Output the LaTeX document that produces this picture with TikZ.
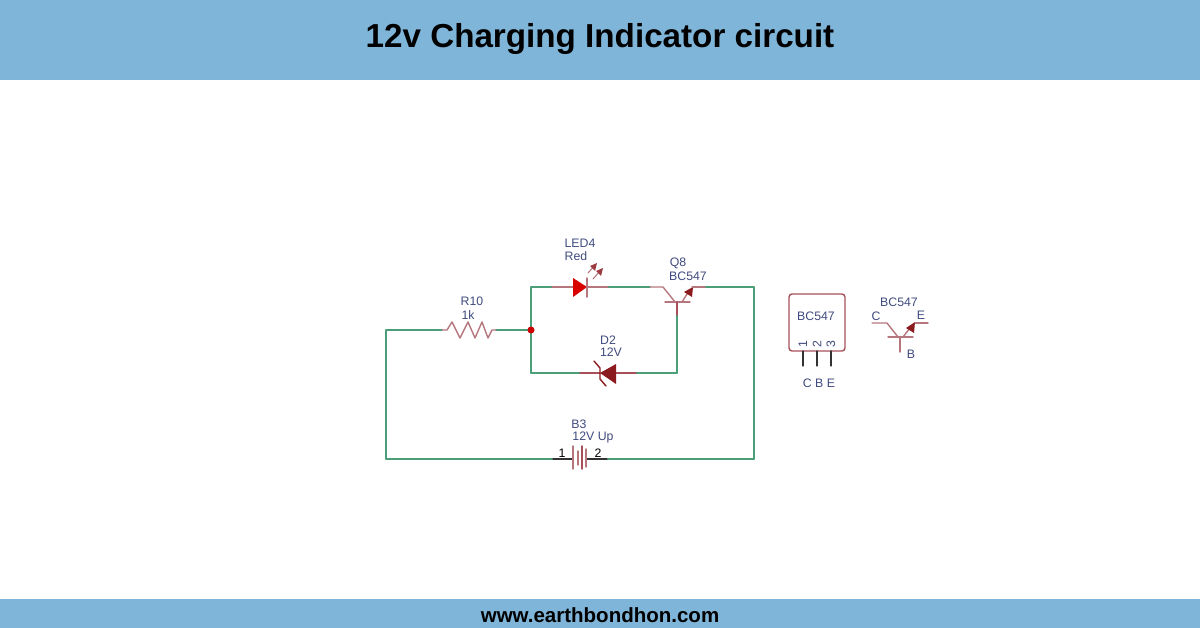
\documentclass[tikz,border=0pt]{standalone}
\usepackage{fontspec}
\setmainfont{Liberation Sans}
\usetikzlibrary{arrows}
\definecolor{bandblue}{HTML}{7FB5D8}
\definecolor{wiregreen}{HTML}{4A9E78}
\definecolor{partpink}{HTML}{B5767E}
\definecolor{partred}{HTML}{8B1A1F}
\definecolor{zenerlead}{HTML}{A8505A}
\definecolor{labelblue}{HTML}{3F4A7E}
\tikzset{
  wire/.style={line width=1.4pt,color=wiregreen},
  lead/.style={line width=1.4pt,color=partpink},
  darklead/.style={line width=1.4pt,color=zenerlead},
  blacklead/.style={line width=1.1pt,color=black!80},
  lbl/.style={inner sep=0pt,color=labelblue,font=\fontsize{12.3}{12.3}\selectfont},
}
\begin{document}
\begin{tikzpicture}[line cap=round,line join=round,x=1pt,y=-1pt]
\useasboundingbox (0,0) rectangle (1200,628);
\fill [color=bandblue] (0,0) rectangle (1200,80);
\fill [color=bandblue] (0,599) rectangle (1200,628);
\node (title) at (600,39) {\fontsize{33.2}{33.2}\selectfont\bfseries 12v Charging Indicator circuit};
\node (site) at (600,615) {\fontsize{20.5}{20.5}\selectfont\bfseries www.earthbondhon.com};

% wire corners and component ends
\coordinate (rl) at (386,330);
\coordinate (bl) at (386,459);
\coordinate (br) at (754,459);
\coordinate (tr) at (754,287);
\coordinate (ra) at (442,330);
\coordinate (rb) at (496,330);
\coordinate (jn) at (531,330);
\coordinate (jt) at (531,287);
\coordinate (jb) at (531,373);
\coordinate (la) at (552,287);
\coordinate (lb) at (608,287);
\coordinate (qc) at (650,287);
\coordinate (qe) at (705,287);
\coordinate (qb) at (677,315);
\coordinate (qk) at (677,373);
\coordinate (za) at (580,373);
\coordinate (zb) at (636,373);
\coordinate (ba) at (553,459);
\coordinate (bb) at (607,459);

\draw [wire] (ra)-- (rl);
\draw [wire] (rl)-- (bl);
\draw [wire] (bl)-- (ba);
\draw [wire] (bb)-- (br);
\draw [wire] (br)-- (tr);
\draw [wire] (tr)-- (qe);
\draw [wire] (rb)-- (jn);
\draw [wire] (jt)-- (jb);
\draw [wire] (jt)-- (la);
\draw [wire] (lb)-- (qc);
\draw [wire] (jb)-- (za);
\draw [wire] (zb)-- (qk);
\draw [wire] (qk)-- (qb);
\fill [color=red!80!black] (jn) circle (3.5);

% R10
\draw [lead] (ra)-- (447,330)-- (452,322)-- (460,338)-- (468,322)-- (475,338)-- (482,322)-- (488,338)-- (492,330)-- (rb);
\node [lbl] (r10) at (472,301) {R10};
\node [lbl] (r10v) at (468,315) {1k};

% LED4
\draw [lead] (la)-- (lb);
\fill [color=red!85!black] (573,278)-- (587,287)-- (573,297)-- cycle;
\draw [lead] (587,278)-- (587,297);
\draw [lead,line width=1pt] (588,273)-- (595,265);
\fill [color=partred!85] (597,263)-- (595,271)-- (590,266)-- cycle;
\draw [lead,line width=1pt] (593,279)-- (600,271);
\fill [color=partred!85] (603,268)-- (601,276)-- (596,271)-- cycle;
\node [lbl] (led) at (580,243) {LED4};
\node [lbl] (ledv) at (576,256) {Red};

% Q8
\draw [lead] (qc)-- (663,287)-- (675,302);
\draw [lead] (665,302)-- (690,302);
\draw [darklead] (677,302)-- (qb);
\draw [lead] (682,302)-- (689,291);
\fill [color=partred] (693,287)-- (692,297)-- (684,292)-- cycle;
\draw [lead] (692,287)-- (qe);
\node [lbl] (q8) at (678,263) {Q8};
\node [lbl] (q8v) at (688,276) {BC547};

% D2
\draw [darklead] (za)-- (600,373);
\draw [darklead] (616,373)-- (zb);
\fill [color=partred] (600,373)-- (616,364)-- (616,384)-- cycle;
\draw [darklead,color=partred] (594,361)-- (600,368)-- (600,379)-- (606,386);
\node [lbl] (d2) at (608,340) {D2};
\node [lbl] (d2v) at (611,352) {12V};

% B3
\draw [blacklead] (ba)-- (573,459);
\draw [blacklead] (586,459)-- (bb);
\draw [lead] (573,446)-- (573,469);
\draw [lead] (578,451)-- (578,465);
\draw [darklead] (582,446)-- (582,469);
\draw [lead] (586,449)-- (586,467);
\node [lbl] (b3) at (579,424) {B3};
\node [lbl] (b3v) at (593,437) {12V Up};
\node [lbl,color=black] (b1) at (562,453) {1};
\node [lbl,color=black] (b2) at (598,453) {2};

% BC547 package
\draw [darklead,rounded corners=3pt] (789,294) rectangle (845,351);
\coordinate (p1) at (803,351);
\coordinate (p2) at (817,351);
\coordinate (p3) at (831,351);
\coordinate (p1e) at (803,366);
\coordinate (p2e) at (817,366);
\coordinate (p3e) at (831,366);
\draw [blacklead] (p1)-- (p1e);
\draw [blacklead] (p2)-- (p2e);
\draw [blacklead] (p3)-- (p3e);
\node [lbl,rotate=90] (n1) at (803,344) {1};
\node [lbl,rotate=90] (n2) at (817,344) {2};
\node [lbl,rotate=90] (n3) at (831,344) {3};
\node [lbl] (pkg) at (816,316) {BC547};
\node [lbl] (cbe) at (819,383) {C B E};

% BC547 symbol
\draw [lead] (872,323)-- (887,323)-- (898,337);
\draw [lead] (888,337)-- (913,337);
\draw [lead] (900,337)-- (900,352);
\draw [lead] (903,337)-- (910,328);
\fill [color=partred] (915,322)-- (914,333)-- (906,328)-- cycle;
\draw [lead] (915,323)-- (928,323);
\node [lbl] (sym) at (899,302) {BC547};
\node [lbl] (symc) at (876,316) {C};
\node [lbl] (syme) at (921,315) {E};
\node [lbl] (symb) at (911,354) {B};
\end{tikzpicture}
\end{document}
